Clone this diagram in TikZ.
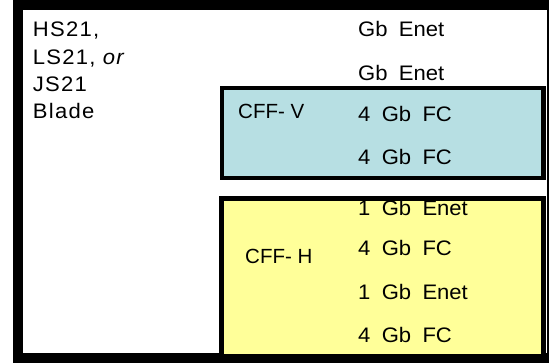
\documentclass[tikz,border=0pt]{standalone}
\usepackage{fontspec}
\setmainfont{Liberation Sans}
\newfontfamily\leftfont[LetterSpace=6,FakeStretch=1.05]{Liberation Sans}
\newfontfamily\portfont[FakeStretch=1.05,WordSpace=1.85]{Liberation Sans}
\definecolor{cffv}{HTML}{B7DFE3}
\definecolor{cffh}{HTML}{FFFF99}
\begin{document}
\begin{tikzpicture}[x=1pt,y=-1pt,
  lbl/.style={anchor=base west,inner sep=0pt,font=\fontsize{20.5}{24}\selectfont},
  leftlbl/.style={lbl,font=\leftfont\fontsize{21}{24}\selectfont},
  portlbl/.style={lbl,font=\portfont\fontsize{21}{24}\selectfont},
  outerbox/.style={draw=black,line width=10pt,fill=white},
  cardbox/.style={draw=black,line width=4.6pt}]
\useasboundingbox (0,0) rectangle (549,364);
\draw[outerbox] (17.7,5) rectangle (552,358.3);
\node[cardbox,fill=cffv,minimum width=321.5pt,minimum height=89.7pt,anchor=north west,inner sep=0pt] (cffvbox) at (219.7,85.8) {};
\node[cardbox,fill=cffh,minimum width=322.1pt,minimum height=157.3pt,anchor=north west,inner sep=0pt] (cffhbox) at (219.2,196.2) {};
\node[leftlbl] (l1) at (32.7,36.7) {HS21,};
\node[leftlbl] (l2) at (32.7,64) {LS21, {\fontshape{it}\selectfont or}};
\node[leftlbl] (l3) at (32.7,91.3) {JS21};
\node[leftlbl] (l4) at (32.7,118) {Blade};
\node[portlbl] (r1) at (358,36.7) {Gb Enet};
\node[portlbl] (r2) at (358,80) {Gb Enet};
\node[portlbl] (r3) at (358,121) {4 Gb FC};
\node[portlbl] (r4) at (358,164) {4 Gb FC};
\node[portlbl] (r5) at (358,215) {1 Gb Enet};
\node[portlbl] (r6) at (358,255.5) {4 Gb FC};
\node[portlbl] (r7) at (358,299) {1 Gb Enet};
\node[portlbl] (r8) at (358,342) {4 Gb FC};
\node[lbl] (cv) at (238,118) {CFF- V};
\node[lbl] (ch) at (245,263) {CFF- H};
\end{tikzpicture}
\end{document}
